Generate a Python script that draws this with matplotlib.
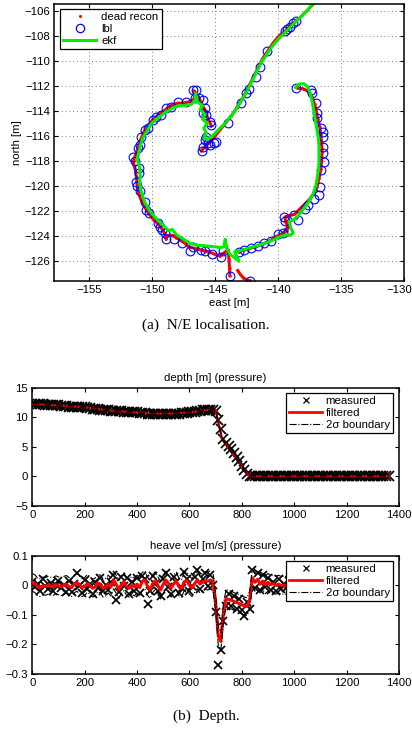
import numpy as np
import matplotlib
matplotlib.use("Agg")
import matplotlib.pyplot as plt
from matplotlib.lines import Line2D
from matplotlib.transforms import ScaledTranslation

plt.rcParams["font.family"] = ["Liberation Sans", "DejaVu Sans"]

# ---------------- (a) N/E localisation ----------------
# dead reckoning track, segments separated by NaN
DR_EAST = [
    -137.05, -137.6, -138.3, -138.9, -139.4, -139.9, -140.4, -140.8, -141.2, -141.5,
    -141.8, -142.1, -142.4, -142.7, -143.0, -143.3, -143.7, -144.1, -144.5, -144.9,
    -145.3, -145.7, -146.1, np.nan,
    -145.3, -145.5, -145.7, -145.9, -146.1, -146.4, -146.6, -146.7, -146.6, -146.7,
    -147.1, -147.6, -148.0, -148.5, -148.9, -149.3, -149.7, -150.1, -150.4, -150.7,
    -150.9, -151.1, -151.3, -151.5, -151.35, -151.25, -151.2, -151.1, -150.9, -150.6,
    -150.3, -149.9, -149.5, -149.2, -148.95, -148.9, -148.8, -148.5, -148.1, -147.8,
    -147.4, -147.1, -146.7, -146.3, -145.9, -145.5, -145.1, -144.6, -144.2, -143.95,
    -143.9, -143.85, -143.83, np.nan,
    -143.2, -143.0, -142.75, -142.5, -142.25, np.nan,
    -143.1, -142.7, -142.2, -141.7, -141.2, -140.7, -140.2, -139.7, -139.3, -139.2,
    -139.4, -139.45, -139.1, -138.7, -138.3, -137.9, -137.5, -137.15, -136.9, -136.75,
    -136.6, -136.55, -136.5, -136.55, -136.6, -136.7, -136.85, -136.95, -137.1, -137.3,
    -137.6, -138.0, -138.45,
]
DR_NORTH = [
    -105.3, -105.9, -106.6, -107.1, -107.6, -108.0, -108.6, -109.2, -109.8, -110.4,
    -111.0, -111.6, -112.2, -112.8, -113.3, -113.8, -114.4, -114.9, -115.4, -115.9,
    -116.4, -116.8, -117.2, np.nan,
    -115.2, -114.8, -114.3, -113.8, -113.3, -112.9, -112.5, -112.4, -112.8, -113.1,
    -113.3, -113.4, -113.4, -113.6, -113.9, -114.2, -114.5, -114.9, -115.3, -115.8,
    -116.3, -116.9, -117.5, -118.1, -118.7, -119.3, -119.9, -120.5, -121.1, -121.7,
    -122.2, -122.7, -123.1, -123.5, -123.9, -124.3, -124.0, -123.95, -124.15, -124.35,
    -124.6, -124.9, -125.0, -125.1, -125.2, -125.3, -125.45, -125.65, -125.3, -125.15,
    -125.9, -126.6, -127.2, np.nan,
    -126.8, -127.1, -127.38, -127.52, -127.6, np.nan,
    -125.3, -125.15, -125.0, -124.85, -124.65, -124.45, -124.1, -123.85, -123.6, -123.3,
    -122.9, -122.5, -122.4, -122.3, -121.9, -121.5, -121.1, -120.6, -120.1, -119.4,
    -118.7, -118.0, -117.3, -116.6, -115.9, -115.3, -114.7, -114.1, -113.5, -112.9,
    -112.45, -112.25, -112.2,
]

LBL_EAST = [
    -138.58, -138.79, -139.05, -139.32, -139.42, -140.90, -141.43, -141.75, -142.33, -142.54,
    -142.96, -143.94, -144.91, -145.05, -145.44, -145.58, -145.97, -146.02, -145.71, -145.84,
    -146.77, -146.50, -146.63, -146.24, -145.97, -145.84, -145.97, -145.71, -145.44, -145.31,
    -147.29, -147.95, -148.48, -148.87, -149.27, -149.67, -149.93, -150.33, -150.59, -150.85,
    -150.99, -151.12, -151.52, -151.38, -151.04, -151.04, -151.25, -151.20, -150.99, -150.59,
    -150.46, -150.25, -149.54, -149.35, -149.19, -149.01, -148.88, -148.30, -147.60,
    -147.03, -146.76, -146.10, -145.84, -145.26, -144.52, -144.39, -143.83, -142.25,
    -143.07, -142.67, -142.14, -141.61, -141.09, -140.56, -140.03, -139.64, -139.24, -139.50,
    -139.42, -138.71, -138.40, -137.84, -137.66, -137.13, -136.79, -136.68, -136.60, -136.34,
    -136.47, -136.47, -136.42, -136.47, -136.60, -136.87, -136.94, -137.00, -137.31, -137.39,
    -138.58,
]
LBL_NORTH = [
    -106.80, -107.01, -107.28, -107.49, -107.60, -109.20, -110.48, -111.33, -112.29, -112.61,
    -113.41, -114.96, -116.48, -116.61, -116.75, -116.61, -116.88, -117.20, -116.08, -116.35,
    -112.35, -112.35, -113.01, -113.01, -113.15, -113.81, -114.21, -114.35, -114.88, -115.15,
    -113.28, -113.33, -113.68, -113.81, -114.35, -114.48, -114.75, -115.41, -115.55, -116.08,
    -116.75, -116.96, -117.68, -118.00, -118.61, -119.01, -119.68, -120.03, -120.40, -121.28,
    -121.95, -122.21, -122.96, -123.28, -123.55, -123.81, -124.29, -124.30, -124.61,
    -125.20, -124.88, -125.15, -125.20, -125.47, -125.73, -125.20, -127.23, -127.60,
    -125.28, -125.15, -125.01, -124.83, -124.61, -124.40, -123.87, -123.81, -123.60, -122.48,
    -122.80, -122.35, -122.75, -121.89, -121.55, -121.09, -120.75, -120.13, -118.75, -118.08,
    -117.41, -116.88, -116.08, -115.68, -115.41, -114.61, -114.21, -113.41, -112.61, -112.35,
    -112.21,
]

EKF_EAST = [
    -137.1, -137.7, -138.3, -138.9, -139.5, -140.0, -140.5, -140.9, -141.3, -141.6,
    -141.9, -142.2, -142.5, -142.8, -143.1, -143.4, -143.8, -144.2, -144.6, -145.0,
    -145.3, -145.6, -145.9, -145.7, -145.9, -145.6, -146.0, -145.8, -146.2, -146.0,
    -146.4, -146.55, -146.6, -146.9, -147.4, -147.9, -148.4, -148.9, -149.3, -149.7,
    -150.1, -150.4, -150.7, -150.9, -151.05, -151.2, -151.0, -150.95, -151.0, -150.9,
    -150.75, -150.5, -150.2, -149.8, -149.4, -149.0, -148.7, -148.4, -148.1, -147.8,
    -147.5, -147.0, -146.5, -146.0, -145.5, -145.0, -144.6, -144.3, -144.2, -144.05,
    -143.8, -143.1, -143.45, -143.0, -142.5, -142.0, -141.5, -141.0, -140.5, -140.0,
    -139.5, -139.0, -138.8, -139.0, -139.1, -138.7, -138.4, -138.1, -137.8, -137.5,
    -137.2, -137.0, -136.9, -136.8, -136.75, -136.75, -136.75, -136.8, -136.9, -137.0,
    -137.1, -137.2, -137.3, -137.45, -137.65, -137.95, -138.25, -138.5, -138.6,
]
EKF_NORTH = [
    -105.3, -106.0, -106.6, -107.2, -107.8, -108.3, -108.9, -109.5, -110.1, -110.7,
    -111.3, -111.9, -112.5, -113.0, -113.5, -114.0, -114.5, -115.0, -115.4, -115.8,
    -116.1, -116.3, -116.2, -115.8, -115.4, -115.0, -114.7, -114.3, -113.9, -113.6,
    -113.3, -112.6, -113.2, -113.5, -113.6, -113.6, -113.8, -114.1, -114.4, -114.7,
    -115.1, -115.6, -116.1, -116.7, -117.3, -117.9, -118.5, -119.1, -119.7, -120.3,
    -120.9, -121.5, -122.0, -122.5, -122.9, -123.3, -123.6, -123.5, -123.9, -124.1,
    -124.3, -124.6, -124.75, -124.8, -124.85, -124.9, -124.95, -124.9, -124.3, -125.1,
    -125.5, -126.05, -125.3, -125.2, -125.05, -124.9, -124.75, -124.6, -124.4, -124.15,
    -123.95, -123.95, -123.8, -123.4, -122.9, -122.7, -122.4, -122.0, -121.6, -121.2,
    -120.6, -120.0, -119.4, -118.8, -118.2, -117.5, -116.9, -116.2, -115.6, -115.0,
    -114.4, -113.8, -113.2, -112.6, -112.1, -111.85, -111.85, -112.0, -112.15,
]

# ---------------- (b) depth ----------------
T_DEPTH = np.arange(0, 1361, 10)
DEPTH_MEAS = [
    12.3, 12.25, 12.2, 12.2, 12.2, 12.15, 12.1, 12.1, 12.1, 12.05,
    12.0, 11.95, 11.9, 11.85, 11.8, 11.8, 11.8, 11.75, 11.7, 11.7,
    11.7, 11.6, 11.5, 11.45, 11.4, 11.35, 11.3, 11.25, 11.2, 11.15,
    11.1, 11.05, 11.0, 11.0, 11.0, 10.95, 10.9, 10.9, 10.9, 10.85,
    10.8, 10.75, 10.7, 10.65, 10.6, 10.6, 10.6, 10.6, 10.6, 10.6,
    10.6, 10.6, 10.6, 10.6, 10.6, 10.6, 10.6, 10.65, 10.7, 10.75,
    10.8, 10.85, 10.9, 11.0, 11.1, 11.15, 11.2, 11.25, 11.3, 11.3,
    11.0, 9.5, 8.0, 6.3, 5.6, 5.1, 4.6, 4.0, 3.3, 2.6,
    1.8, 1.1, 0.4, 0.0,
    0.0, 0.0, 0.0, 0.0, 0.0, 0.0, 0.0, 0.0, 0.0, 0.0,
    0.0, 0.0, 0.0, 0.0, 0.0, 0.0, 0.0, 0.0, 0.0, 0.0,
    0.0, 0.0, 0.0, 0.0, 0.0, 0.0, 0.0, 0.0, 0.0, 0.0,
    0.0, 0.0, 0.0, 0.0, 0.0, 0.0, 0.0, 0.0, 0.0, 0.0,
    0.0, 0.0, 0.0, 0.0, 0.0, 0.0, 0.0, 0.0, 0.0, 0.0,
    0.0, 0.0, 0.0,
]
T_DEPTH_FILT = [0, 100, 200, 300, 400, 500, 600, 680, 700, 725, 740, 790, 828, 1360]
DEPTH_FILT = [12.2, 12.0, 11.7, 11.1, 10.8, 10.6, 10.8, 11.3, 11.1, 6.3, 5.3, 2.3, 0.0, 0.0]
DEPTH_2SIGMA = 0.12

# ---------------- (b) heave velocity ----------------
T_HEAVE = np.arange(0, 1361, 10)
HEAVE_FILT = [
    0.010, 0.005, -0.005, -0.008, -0.002, -0.004, 0.000, -0.003, -0.004, 0.002,
    -0.002, -0.005, 0.000, 0.003, -0.004, -0.008, 0.004, 0.010, 0.002, -0.008,
    -0.004, 0.006, 0.000, -0.010, -0.006, 0.008, 0.004, -0.010, -0.006, 0.004,
    -0.006, 0.018, 0.004, -0.014, 0.002, 0.012, -0.004, -0.010, 0.000, -0.006,
    0.004, -0.008, 0.014, 0.018, -0.004, -0.014, 0.006, 0.016, -0.002, -0.016,
    0.004, 0.018, 0.006, -0.010, 0.006, 0.014, -0.006, -0.010, 0.012, 0.016,
    0.000, -0.008, 0.006, 0.018, 0.004, 0.010, 0.016, 0.014, 0.018, 0.012,
    -0.060, -0.170, -0.190, -0.090, -0.045, -0.048, -0.050, -0.055, -0.058, -0.062,
    -0.066, -0.070, -0.072, -0.050, 0.025, 0.010, 0.020, 0.004, 0.014, 0.002,
    0.010, 0.002, 0.006, 0.000, 0.004,
    0.0, 0.0, 0.0, 0.0, 0.0, 0.0, 0.0, 0.0, 0.0, 0.0,
    0.0, 0.0, 0.0, 0.0, 0.0, 0.0, 0.0, 0.0, 0.0, 0.0,
    0.0, 0.0, 0.0, 0.0, 0.0, 0.0, 0.0, 0.0, 0.0, 0.0,
    0.0, 0.0, 0.0, 0.0, 0.0, 0.0, 0.0, 0.0, 0.0, 0.0,
    0.0, 0.0,
]
HEAVE_MEAS = [
    0.012, -0.006, 0.004, -0.018, 0.020, -0.002, -0.014, 0.008, -0.020, 0.002,
    0.016, -0.010, 0.000, -0.022, 0.014, -0.024, 0.006, 0.040, -0.004, -0.026,
    0.018, -0.012, 0.004, -0.028, 0.010, -0.008, 0.026, -0.020, 0.002, -0.016,
    0.012, 0.036, -0.050, -0.022, 0.028, -0.004, 0.024, -0.030, 0.010, -0.018,
    0.026, -0.026, 0.030, 0.022, -0.062, -0.018, 0.030, 0.004, -0.020, -0.036,
    0.020, 0.040, -0.006, -0.030, 0.028, 0.010, -0.026, -0.010, 0.046, 0.020,
    -0.020, -0.004, 0.028, 0.050, -0.012, 0.022, 0.040, -0.004, 0.034, 0.002,
    -0.090, -0.270, -0.220, -0.120, -0.070, -0.030, -0.070, -0.035, -0.080, -0.045,
    -0.085, -0.105, -0.055, -0.080, 0.050, -0.010, 0.040, -0.016, 0.034, -0.006,
    0.026, -0.016, 0.012, -0.018, 0.020,
    -0.012, 0.004, -0.010, 0.016, -0.002, 0.012, -0.016, 0.006, -0.012, 0.014,
    -0.004, 0.012, -0.014, 0.002, -0.012, 0.010, -0.016, 0.014, 0.000, 0.012,
    -0.014, 0.006, -0.012, 0.016, -0.004, 0.014, -0.012, 0.002, -0.016, 0.012,
    -0.006, 0.014, -0.012, 0.016, -0.002, 0.010, -0.012, 0.004, -0.010, 0.012,
    -0.014, 0.006,
]
HEAVE_2SIGMA = 0.03

FS = 8.2


def style_axes(ax):
    ax.tick_params(direction="in", top=True, right=True, length=3, width=0.8,
                   labelsize=FS, pad=3)
    for s in ax.spines.values():
        s.set_linewidth(1.1)


def time_panel(ax, t_meas, meas, t_filt, filt, sigma, title, ms, red_lw):
    ax.plot(t_meas, meas, ls="none", marker="x", ms=ms, mew=1.25, color="black",
            label="measured", zorder=2)
    ax.plot(t_filt, filt, color="red", lw=red_lw, label="filtered", zorder=3)
    filt = np.asarray(filt)
    ax.plot(t_filt, filt + sigma, color="black", lw=0.8, ls="-.",
            label="2\u03c3 boundary", zorder=4)
    ax.plot(t_filt, filt - sigma, color="black", lw=0.8, ls="-.", zorder=4)
    ax.set_title(title, fontsize=FS, pad=5)
    ax.set_xlim(0, 1400)
    ax.set_xticks(np.arange(0, 1401, 200))
    style_axes(ax)
    handles = [
        Line2D([], [], ls="none", marker="x", ms=4, mew=0.9, color="black"),
        Line2D([], [], color="red", lw=2.0),
        Line2D([], [], color="black", lw=0.8, ls="-."),
    ]
    leg = ax.legend(handles, ["measured", "filtered", "2\u03c3 boundary"],
                    loc="upper right", bbox_to_anchor=(0.984, 0.955),
                    borderaxespad=0, fontsize=FS, fancybox=False, framealpha=1,
                    edgecolor="black", handlelength=2.9, handletextpad=0.3,
                    labelspacing=0.15, borderpad=0.3)
    leg.get_frame().set_linewidth(0.9)
    leg.set_zorder(10)


fig = plt.figure(figsize=(4.12, 7.31), dpi=100)

# --- N/E ---
ax = fig.add_axes([0.1318, 0.6156, 0.8488, 0.3789])
ax.plot(DR_EAST, DR_NORTH, color="red", lw=2.2, marker="o", ms=1.8, mew=0)
ax.plot(LBL_EAST, LBL_NORTH, ls="none", marker="o", ms=6.3, mfc="none",
        mec="blue", mew=0.8)
ax.plot(EKF_EAST, EKF_NORTH, color="#00ee00", lw=2.2)
ax.set_xlim(-157.77, -130.08)
ax.set_ylim(-127.63, -105.47)
ax.set_xticks(np.arange(-155, -129, 5))
ax.set_yticks(np.arange(-126, -105, 2))
ax.grid(True, color="#555555", ls=(0, (1, 3.5)), lw=0.6)
ax.set_xlabel("east [m]", fontsize=FS, labelpad=2)
ax.set_ylabel("north [m]", fontsize=FS, labelpad=2)
style_axes(ax)
# last x label sits against the figure edge in the original
last = ax.get_xticklabels()[-1]
last.set_transform(last.get_transform() + ScaledTranslation(-5 / 100, 0, fig.dpi_scale_trans))
handles = [
    Line2D([], [], ls="none", marker="o", ms=2.2, mew=0, color="red"),
    Line2D([], [], ls="none", marker="o", ms=6, mfc="none", mec="blue", mew=0.9),
    Line2D([], [], color="#00ee00", lw=2.2),
]
leg = ax.legend(handles, ["dead recon", "lbl", "ekf"], loc="upper left",
                bbox_to_anchor=(0.0163, 0.982), borderaxespad=0, fontsize=FS,
                fancybox=False, framealpha=1, edgecolor="black",
                handlelength=2.9, handletextpad=0.4, labelspacing=0.15,
                borderpad=0.3)
leg.get_frame().set_linewidth(0.9)

fig.text(0.5, 1 - 325 / 731, "(a)  N/E localisation.", ha="center", va="center",
         fontsize=11, family="Liberation Serif")

# --- depth ---
ax = fig.add_axes([0.0784, 0.3082, 0.890, 0.1614])
time_panel(ax, T_DEPTH, DEPTH_MEAS, T_DEPTH_FILT, DEPTH_FILT, DEPTH_2SIGMA,
           "depth [m] (pressure)", ms=7, red_lw=1.6)
ax.set_ylim(-5, 15)
ax.set_yticks([-5, 0, 5, 10, 15])

# --- heave ---
ax = fig.add_axes([0.0784, 0.0780, 0.890, 0.1618])
time_panel(ax, T_HEAVE, HEAVE_MEAS, T_HEAVE, HEAVE_FILT, HEAVE_2SIGMA,
           "heave vel [m/s] (pressure)", ms=5.5, red_lw=2.2)
ax.set_ylim(-0.3, 0.1)
ax.set_yticks([-0.3, -0.2, -0.1, 0, 0.1])
ax.set_yticklabels(["\u22120.3", "\u22120.2", "\u22120.1", "0", "0.1"])

fig.text(0.5, 1 - 716 / 731, "(b)  Depth.", ha="center", va="center",
         fontsize=11, family="Liberation Serif")

fig.savefig("out.png", dpi=100)
